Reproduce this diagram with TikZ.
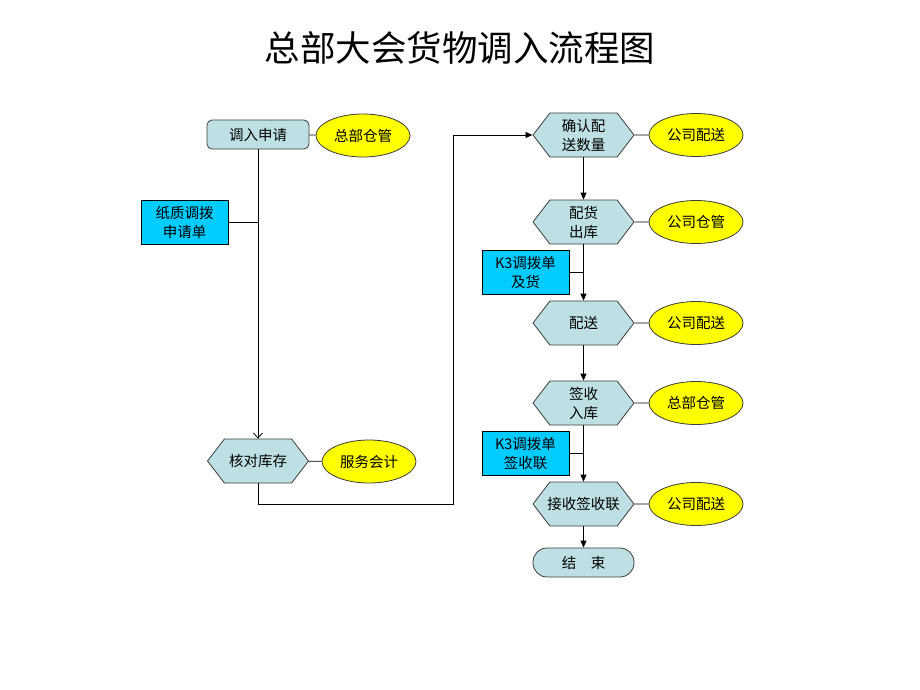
\documentclass[tikz,border=0pt]{standalone}
\usepackage{fontspec}
\setmainfont{Liberation Sans}
\newfontfamily\cjk{Noto Sans CJK SC}
\usetikzlibrary{shapes.geometric,shapes.symbols,arrows.meta}
\definecolor{procfill}{RGB}{190,224,228}
\definecolor{docfill}{RGB}{0,204,255}
\definecolor{rolefill}{RGB}{255,255,0}
\definecolor{edgegray}{RGB}{60,60,60}
\tikzset{
  x=1pt,y=-1pt,
  every node/.style={font=\cjk\fontsize{14.5}{19}\selectfont, align=center, inner sep=0pt},
  roundbox/.style={draw=edgegray, fill=procfill, rounded corners=5pt, minimum width=102pt, minimum height=29pt, line width=0.8pt},
  endbox/.style={draw=edgegray, fill=procfill, rounded corners=14pt, minimum width=101pt, minimum height=29pt, line width=0.8pt},
  hexbox/.style={draw=edgegray, fill=procfill, signal, signal to=east and west, signal pointer angle=105, minimum width=101pt, minimum height=44pt, line width=0.8pt},
  docbox/.style={draw=black, fill=docfill, minimum width=87pt, minimum height=44pt, line width=0.8pt},
  rolebox/.style={draw=edgegray, fill=rolefill, ellipse, minimum width=94pt, minimum height=43pt, line width=0.8pt},
  link/.style={draw=black, line width=0.8pt},
  flow/.style={link, -{Triangle[length=7pt,width=6pt]}},
  openflow/.style={link, -{Straight Barb[length=5pt,width=9pt]}}
}
\begin{document}
\begin{tikzpicture}
\path[use as bounding box] (0,0) rectangle (920,690);
\node[font=\cjk\fontsize{35.5}{40}\selectfont] (title) at (460,48) {总部大会货物调入流程图};

% left column
\node[roundbox] (apply) at (258,134.5) {调入申请};
\node[rolebox] (r1) at (363,135.5) {总部仓管};
\node[docbox] (paper) at (184.5,222) {纸质调拨\\申请单};
\node[hexbox] (check) at (258,461) {核对库存};
\node[rolebox] (r2) at (369,461.5) {服务会计};

% right column
\node[hexbox] (confirm) at (583.5,135) {确认配\\送数量};
\node[rolebox] (r3) at (696,135) {公司配送};
\node[hexbox] (ship) at (583.5,222) {配货\\出库};
\node[rolebox] (r4) at (696,222) {公司仓管};
\node[docbox] (k3a) at (525.5,272.5) {K3调拨单\\及货};
\node[hexbox] (deliver) at (583.5,323) {配送};
\node[rolebox] (r5) at (696,323) {公司配送};
\node[hexbox] (sign) at (583.5,403) {签收\\入库};
\node[rolebox] (r6) at (696,403) {总部仓管};
\node[docbox] (k3b) at (525.5,453.5) {K3调拨单\\签收联};
\node[hexbox] (receive) at (583.5,504) {\makebox[40pt][c]{接收签收联}};
\node[rolebox] (r7) at (696,504) {公司配送};
\node[endbox] (end) at (583.5,562.5) {结\hspace{1em}束};

% role links
\draw[link] (apply) -- (r1);
\draw[link] (check) -- (r2);
\draw[link] (confirm) -- (r3);
\draw[link] (ship) -- (r4);
\draw[link] (deliver) -- (r5);
\draw[link] (sign) -- (r6);
\draw[link] (receive) -- (r7);

% document links
\draw[link] (paper.east) -- (paper.east -| apply.south);
\draw[link] (k3a.east) -- (k3a.east -| ship.south);
\draw[link] (k3b.east) -- (k3b.east -| sign.south);

% flow
\draw[openflow] (apply.south) -- (check.north);
\coordinate (c1) at (453,504);
\draw[flow] (check.south) |- (c1) |- (confirm.west);
\draw[flow] (confirm.south) -- (ship.north);
\draw[flow] (ship.south) -- (deliver.north);
\draw[flow] (deliver.south) -- (sign.north);
\draw[flow] (sign.south) -- (receive.north);
\draw[flow] (receive.south) -- (end.north);
\end{tikzpicture}
\end{document}
